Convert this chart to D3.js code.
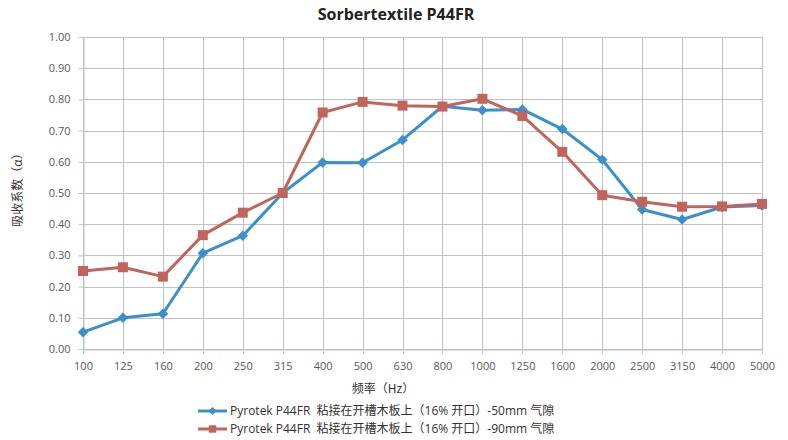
<!DOCTYPE html>
<html>
<head>
<meta charset="utf-8">
<script src="https://cdn.jsdelivr.net/npm/d3@7"></script>
<style>
  body { margin: 0; background: #fff; }
  svg { display: block; font-family: "Open Sans", "Noto Sans CJK SC", sans-serif; }
</style>
</head>
<body>
<div id="chart"></div>
<script>
// --------------------------------------
//  Data
// --------------------------------------

const freqs = ["100", "125", "160", "200", "250", "315", "400", "500", "630", "800",
  "1000", "1250", "1600", "2000", "2500", "3150", "4000", "5000"];

const gap50 = [0.054, 0.100, 0.113, 0.307, 0.363, 0.500, 0.598, 0.597, 0.670, 0.778,
  0.765, 0.768, 0.705, 0.607, 0.447, 0.415, 0.455, 0.460];

const gap90 = [0.250, 0.262, 0.232, 0.365, 0.437, 0.500, 0.758, 0.792, 0.780, 0.777,
  0.802, 0.747, 0.632, 0.493, 0.472, 0.456, 0.457, 0.465];

const yTicks = [0, 0.1, 0.2, 0.3, 0.4, 0.5, 0.6, 0.7, 0.8, 0.9, 1.0];

const seriesNames = [
  "Pyrotek P44FR  粘接在开槽木板上（16% 开口）-50mm 气隙",
  "Pyrotek P44FR  粘接在开槽木板上（16% 开口）-90mm 气隙"
];

// --------------------------------------
//  Margin and canvas
// --------------------------------------

const width = 788;
const height = 440;
const margin = {top: 37, right: 26, bottom: 91, left: 83};
const innerwidth = width - margin.left - margin.right;
const innerheight = height - margin.top - margin.bottom;

const blue = "#3a8fce";
const red = "#c1645c";
const gridColor = "#bfc1c7";
const textColor = "#595959";

const svg = d3.select("#chart")
  .append("svg")
    .attr("width", width)
    .attr("height", height)
    .attr("viewBox", `0 0 ${width} ${height}`);

const innerChart = svg.append("g")
    .attr("transform", `translate(${margin.left}, ${margin.top})`);

// --------------------------------------
//  Scales
// --------------------------------------

const x = d3.scalePoint()
    .domain(freqs)
    .range([0, innerwidth]);

const y = d3.scaleLinear()
    .domain([0, 1])
    .range([innerheight, 0]);

// --------------------------------------
//  Grid
// --------------------------------------

innerChart.append("g")
  .selectAll("line")
  .data(yTicks)
  .join("line")
    .attr("x1", 0)
    .attr("x2", innerwidth)
    .attr("y1", d => Math.round(y(d)) + 0.5)
    .attr("y2", d => Math.round(y(d)) + 0.5)
    .attr("stroke", gridColor)
    .attr("stroke-width", 1);

innerChart.append("g")
  .selectAll("line")
  .data(freqs)
  .join("line")
    .attr("x1", d => Math.round(x(d)) + 0.5)
    .attr("x2", d => Math.round(x(d)) + 0.5)
    .attr("y1", 0)
    .attr("y2", innerheight + 5)
    .attr("stroke", gridColor)
    .attr("stroke-width", 1);

// --------------------------------------
//  Axes
// --------------------------------------

const yAxis = innerChart.append("g")
    .attr("class", "y-axis")
    .attr("transform", "translate(0.5, 0)")
    .call(d3.axisLeft(y)
      .tickValues(yTicks)
      .tickSize(5)
      .tickPadding(8)
      .tickFormat(d3.format(".2f")));

yAxis.select(".domain").attr("stroke", gridColor);
yAxis.selectAll(".tick line").attr("stroke", gridColor);
yAxis.selectAll("text")
    .attr("fill", textColor)
    .style("font-size", "11px")
    .style("font-family", "Open Sans, sans-serif");

const xAxis = innerChart.append("g")
    .attr("class", "x-axis")
    .attr("transform", `translate(0, ${Math.round(innerheight) + 0.5})`)
    .call(d3.axisBottom(x)
      .tickSize(0)
      .tickPadding(13));

xAxis.select(".domain").attr("stroke", gridColor);
xAxis.selectAll("text")
    .attr("fill", textColor)
    .style("font-size", "11px")
    .style("font-family", "Open Sans, sans-serif");

// --------------------------------------
//  Titles
// --------------------------------------

svg.append("text")
    .attr("x", 396)
    .attr("y", 20)
    .attr("text-anchor", "middle")
    .attr("fill", "#222")
    .style("font-size", "16px")
    .style("font-weight", "bold")
    .text("Sorbertextile P44FR");

svg.append("text")
    .attr("transform", "translate(22, 187) rotate(-90)")
    .attr("text-anchor", "middle")
    .attr("fill", "#333")
    .style("font-size", "12px")
    .style("font-family", "Noto Sans CJK SC, sans-serif")
    .text("吸收系数（α）");

svg.append("text")
    .attr("x", 383)
    .attr("y", 393)
    .attr("text-anchor", "middle")
    .attr("fill", "#333")
    .style("font-size", "12px")
    .style("font-family", "Noto Sans CJK SC, sans-serif")
    .text("频率（Hz）");

// --------------------------------------
//  Data drawing
// --------------------------------------

const line = d3.line()
    .x((d, i) => x(freqs[i]))
    .y(d => y(d));

innerChart.append("path")
    .datum(gap50)
    .attr("fill", "none")
    .attr("stroke", blue)
    .attr("stroke-width", 3)
    .attr("stroke-linejoin", "round")
    .attr("d", line);

innerChart.append("path")
    .datum(gap90)
    .attr("fill", "none")
    .attr("stroke", red)
    .attr("stroke-width", 3)
    .attr("stroke-linejoin", "round")
    .attr("d", line);

const diamond = d3.symbol().type(d3.symbolDiamond2).size(70);
const square = d3.symbol().type(d3.symbolSquare).size(100);

innerChart.append("g")
  .selectAll("path")
  .data(gap50)
  .join("path")
    .attr("d", diamond)
    .attr("transform", (d, i) => `translate(${x(freqs[i])}, ${y(d)})`)
    .attr("fill", blue);

innerChart.append("g")
  .selectAll("path")
  .data(gap90)
  .join("path")
    .attr("d", square)
    .attr("transform", (d, i) => `translate(${x(freqs[i])}, ${y(d)})`)
    .attr("fill", red);

// --------------------------------------
//  Legend
// --------------------------------------

const legend = svg.append("g")
    .attr("transform", "translate(198, 411)");

const legendItems = [
  {name: seriesNames[0], color: blue},
  {name: seriesNames[1], color: red}
];

legendItems.forEach((item, i) => {
  const row = legend.append("g")
      .attr("transform", `translate(0, ${i * 18})`);
  row.append("line")
      .attr("x1", 0)
      .attr("x2", 29)
      .attr("stroke", item.color)
      .attr("stroke-width", 3);
  row.append("path")
      .attr("d", i === 0 ? d3.symbol().type(d3.symbolDiamond2).size(40) : d3.symbol().type(d3.symbolSquare).size(55))
      .attr("transform", "translate(14.5, 0)")
      .attr("fill", item.color);
  row.append("text")
      .attr("x", 32)
      .attr("y", 0)
      .attr("dy", "0.35em")
      .attr("fill", "#333")
      .style("white-space", "pre")
      .style("font-size", "12px")
      .style("font-family", "Open Sans, Noto Sans CJK SC, sans-serif")
      .text(item.name);
});
</script>
</body>
</html>
